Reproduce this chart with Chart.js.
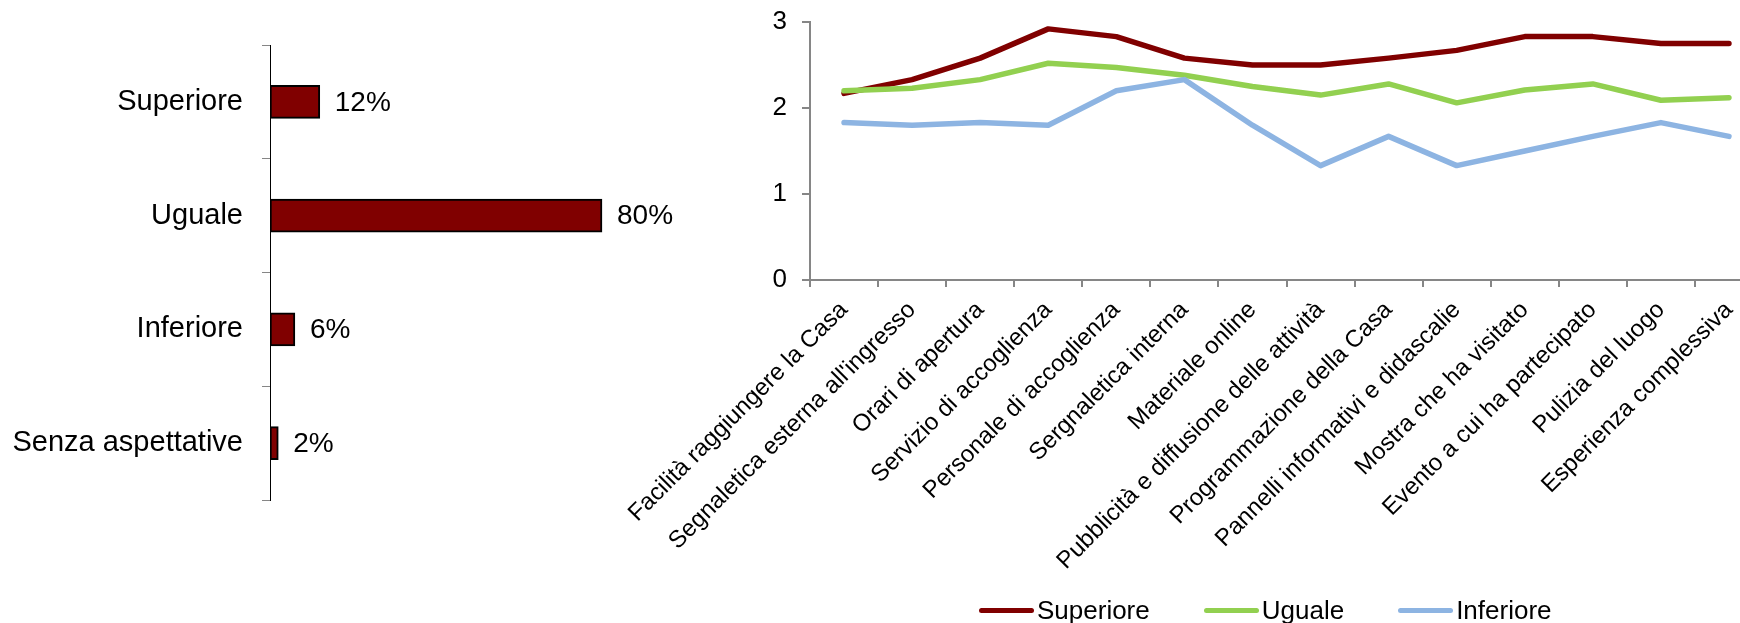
<!DOCTYPE html>
<html>
<head>
<meta charset="utf-8">
<script src="https://cdn.jsdelivr.net/npm/chart.js@4/dist/chart.umd.min.js"></script>
<style>
  html, body { margin: 0; padding: 0; width: 1740px; height: 623px; overflow: hidden; background: #fff; }
  #expCanvas { position: absolute; left: 0; top: 0; }
  #rateCanvas { position: absolute; left: 560px; top: 0; }
  #legend {
    position: absolute; left: 979px; top: 596px; height: 28px;
    display: flex; align-items: center;
    font-family: "Liberation Sans", Arial, sans-serif; font-size: 26px; color: #000;
  }
  .item { display: flex; align-items: center; margin-right: 54px; }
  .swatch { width: 55px; height: 5px; border-radius: 3px; margin-right: 3px; }
</style>
</head>
<body>
<canvas id="expCanvas" width="720" height="540"></canvas>
<canvas id="rateCanvas" width="1203" height="612"></canvas>
<div id="legend"></div>
<script>
// Aspettative rispetto alla visita (% rispondenti)
const expCategories = ['Superiore', 'Uguale', 'Inferiore', 'Senza aspettative'];
const expValues = [12, 80, 6, 2];

// Valutazione media dei servizi, per aspettativa
const serviceLabels = [
  'Facilità raggiungere la Casa',
  "Segnaletica esterna all'ingresso",
  'Orari di apertura',
  'Servizio di accoglienza',
  'Personale di accoglienza',
  'Sergnaletica interna',
  'Materiale online',
  'Pubblicità e diffusione delle attività',
  'Programmazione della Casa',
  'Pannelli informativi e didascalie',
  'Mostra che ha visitato',
  'Evento a cui ha partecipato',
  'Pulizia del luogo',
  'Esperienza complessiva'
];
const superioreValues = [2.17, 2.33, 2.58, 2.92, 2.83, 2.58, 2.50, 2.50, 2.58, 2.67, 2.83, 2.83, 2.75, 2.75];
const ugualeValues    = [2.20, 2.23, 2.33, 2.52, 2.47, 2.38, 2.25, 2.15, 2.28, 2.06, 2.21, 2.28, 2.09, 2.12];
const inferioreValues = [1.83, 1.80, 1.83, 1.80, 2.20, 2.33, 1.80, 1.33, 1.67, 1.33, 1.50, 1.67, 1.83, 1.67];
const yTicks = [0, 1, 2, 3];

const seriesNames = ['Superiore', 'Uguale', 'Inferiore'];
const seriesColors = ['#800000', '#92d050', '#8db4e2'];

const FONT = '"Liberation Sans", Arial, sans-serif';
const AXIS_GREY = '#868686';

// Value labels at the end of each bar
const barValueLabels = {
  id: 'barValueLabels',
  afterDatasetsDraw(chart) {
    const ctx = chart.ctx;
    const meta = chart.getDatasetMeta(0);
    ctx.save();
    ctx.font = '28px ' + FONT;
    ctx.fillStyle = '#000';
    ctx.textAlign = 'left';
    ctx.textBaseline = 'middle';
    meta.data.forEach((bar, i) => {
      ctx.fillText(chart.data.datasets[0].data[i] + '%', bar.x + 15, bar.y + 1);
    });
    ctx.restore();
  }
};

new Chart(document.getElementById('expCanvas'), {
  type: 'bar',
  data: {
    labels: expCategories,
    datasets: [{
      data: expValues,
      backgroundColor: '#800000',
      borderColor: '#000000',
      borderWidth: 2,
      borderSkipped: false,
      barThickness: 33
    }]
  },
  options: {
    indexAxis: 'y',
    responsive: false,
    animation: false,
    layout: { padding: { top: 45, bottom: 40, left: 0, right: 35 } },
    plugins: { legend: { display: false }, tooltip: { enabled: false } },
    scales: {
      x: { display: false, min: 0, max: 100 },
      y: {
        offset: true,
        afterFit(scale) { scale.width = 270; scale.paddingTop = 0; scale.paddingBottom = 0; },
        border: { display: true, color: '#000', width: 1 },
        grid: { offset: true, drawOnChartArea: false, drawTicks: true, tickLength: 8, color: AXIS_GREY },
        ticks: { color: '#000', font: { family: FONT, size: 29 }, padding: 19 }
      }
    }
  },
  plugins: [barValueLabels]
});

const seriesData = [superioreValues, ugualeValues, inferioreValues];

new Chart(document.getElementById('rateCanvas'), {
  type: 'line',
  data: {
    labels: serviceLabels,
    datasets: seriesNames.map((name, i) => ({
      label: name,
      data: seriesData[i],
      borderColor: seriesColors[i],
      order: 3 - i
    }))
  },
  options: {
    responsive: false,
    animation: false,
    layout: { padding: { top: 22, right: 0, left: 0, bottom: 0 } },
    elements: {
      line: { borderWidth: 5.5, tension: 0, borderCapStyle: 'round', borderJoinStyle: 'round', fill: false },
      point: { radius: 0, hoverRadius: 0 }
    },
    plugins: { legend: { display: false }, tooltip: { enabled: false } },
    scales: {
      x: {
        offset: true,
        afterFit(scale) { scale.height = 332; scale.paddingLeft = 0; scale.paddingRight = 0; },
        border: { display: true, color: AXIS_GREY, width: 2 },
        grid: { offset: true, drawOnChartArea: false, drawTicks: true, tickLength: 7, color: AXIS_GREY, lineWidth: 2 },
        ticks: {
          autoSkip: false, minRotation: 45, maxRotation: 45, labelOffset: 0, padding: 9,
          color: '#000', font: { family: FONT, size: 24 }
        }
      },
      y: {
        min: 0, max: 3,
        afterFit(scale) { scale.width = 250; scale.paddingTop = 0; scale.paddingBottom = 0; },
        afterBuildTicks(scale) { scale.ticks = yTicks.map(v => ({ value: v })); },
        border: { display: true, color: AXIS_GREY, width: 2 },
        grid: { drawOnChartArea: false, drawTicks: true, tickLength: 8, color: AXIS_GREY, lineWidth: 2 },
        ticks: { color: '#000', font: { family: FONT, size: 26 }, padding: 15 }
      }
    }
  }
});

// Legend for the line chart
const legendEl = document.getElementById('legend');
seriesNames.forEach((name, i) => {
  const item = document.createElement('div');
  item.className = 'item';
  const sw = document.createElement('span');
  sw.className = 'swatch';
  sw.style.background = seriesColors[i];
  const tx = document.createElement('span');
  tx.textContent = name;
  item.appendChild(sw);
  item.appendChild(tx);
  legendEl.appendChild(item);
});
</script>
</body>
</html>
